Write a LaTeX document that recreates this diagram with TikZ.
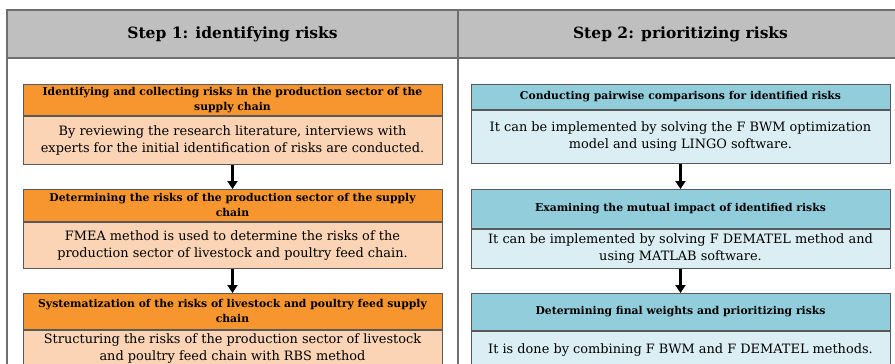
\documentclass[tikz,border=0pt]{standalone}
\usepackage{fontspec}
\setmainfont{DejaVu Serif}
\usetikzlibrary{arrows.meta}
\definecolor{hdrgray}{HTML}{BFBFBF}
\definecolor{framegray}{HTML}{6E6E6E}
\definecolor{orgdark}{HTML}{F7962F}
\definecolor{orglight}{HTML}{FAD4B4}
\definecolor{bluedark}{HTML}{92CDDC}
\definecolor{bluelight}{HTML}{DAEEF3}
\tikzset{
  box/.style={draw=black!65, line width=0.9pt, minimum width=419pt, inner sep=0pt,
    align=center, anchor=north},
  ltitle/.style={box, fill=orgdark, font=\bfseries\fontsize{10.8}{15}\selectfont},
  lbody/.style={box, fill=orglight, font=\fontsize{12.9}{17}\selectfont},
  rtitle/.style={box, fill=bluedark, font=\bfseries\fontsize{10.8}{15}\selectfont},
  rbody/.style={box, fill=bluelight, font=\fontsize{12.9}{17}\selectfont},
  hdr/.style={font=\bfseries\fontsize{15.5}{18}\selectfont},
  flow/.style={line width=2.8pt, -{Triangle[width=10pt,length=8pt]}}
}
\begin{document}
\begin{tikzpicture}[x=1pt, y=-1pt]
  \useasboundingbox (0,0) rectangle (895,364);
  \clip (0,0) rectangle (895,364);
  % frame and headers
  \fill[hdrgray] (7,10) rectangle (900,58);
  \draw[framegray, line width=1.2pt] (7,380) -- (7,10) -- (900,10);
  \draw[framegray, line width=1.2pt] (7,58) -- (900,58);
  \draw[framegray, line width=1.2pt] (458,10) -- (458,380);
  \node[hdr] (h1) at (232.5,34) {Step 1: identifying risks};
  \node[hdr] (h2) at (680.5,34) {Step 2: prioritizing risks};
  % step 1
  \node[ltitle, minimum height=31pt] (lt1) at (232.5,84)
    {Identifying and collecting risks in the production sector of the\\supply chain};
  \node[lbody, minimum height=48pt] (lb1) at (lt1.south)
    {By reviewing the research literature, interviews with\\experts for the initial identification of risks are conducted.};
  \node[ltitle, minimum height=32pt] (lt2) at (232.5,189)
    {Determining the risks of the production sector of the supply\\chain};
  \node[lbody, minimum height=46pt] (lb2) at (lt2.south)
    {FMEA method is used to determine the risks of the\\production sector of livestock and poultry feed chain.};
  \node[ltitle, minimum height=36pt] (lt3) at (232.5,293)
    {Systematization of the risks of livestock and poultry feed supply\\chain};
  \node[lbody, minimum height=37pt] (lb3) at (lt3.south)
    {Structuring the risks of the production sector of livestock\\and poultry feed chain with RBS method};
  \draw[flow] (lb1.south) -- (lt2.north);
  \draw[flow] (lb2.south) -- (lt3.north);
  % step 2
  \node[rtitle, minimum height=25pt] (rt1) at (680.5,84)
    {Conducting pairwise comparisons for identified risks};
  \node[rbody, minimum height=53pt] (rb1) at (rt1.south)
    {It can be implemented by solving the F BWM optimization\\model and using LINGO software.};
  \node[rtitle, minimum height=39pt] (rt2) at (680.5,189)
    {Examining the mutual impact of identified risks};
  \node[rbody, minimum height=39pt] (rb2) at (rt2.south)
    {It can be implemented by solving F DEMATEL method and\\using MATLAB software.};
  \node[rtitle, minimum height=37pt] (rt3) at (680.5,293)
    {Determining final weights and prioritizing risks};
  \node[rbody, minimum height=37pt] (rb3) at (rt3.south)
    {It is done by combining F BWM and F DEMATEL methods.};
  \draw[flow] (rb1.south) -- (rt2.north);
  \draw[flow] (rb2.south) -- (rt3.north);
\end{tikzpicture}
\end{document}
